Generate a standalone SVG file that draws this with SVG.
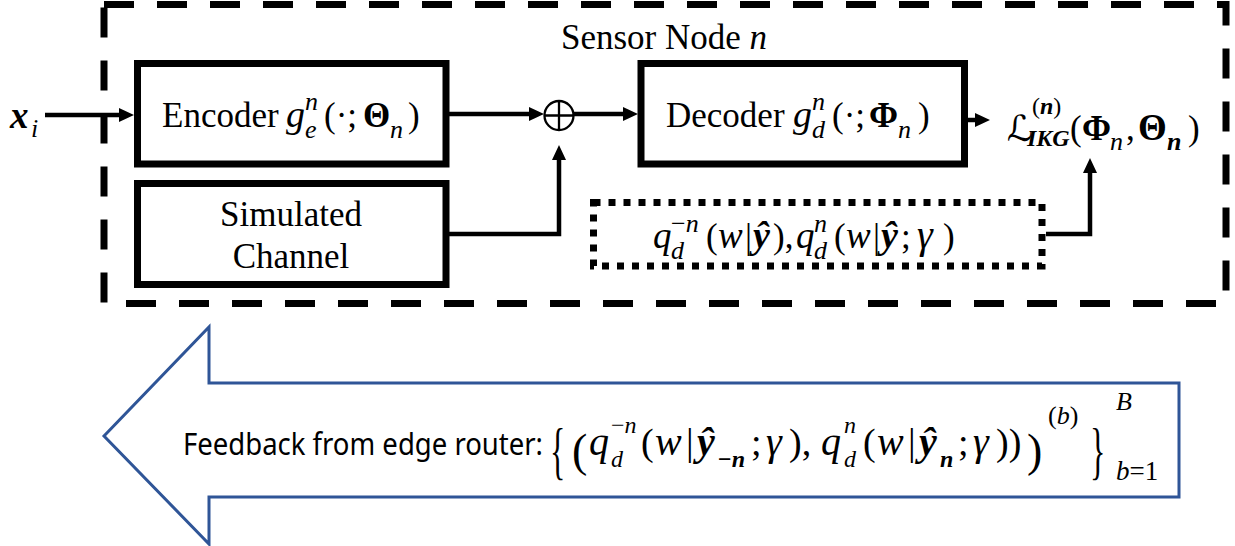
<svg xmlns="http://www.w3.org/2000/svg" width="1235" height="546" viewBox="0 0 1235 546">
<style>
.box{fill:none;stroke:#000;stroke-width:7}
.dash{fill:none;stroke:#000;stroke-width:7;stroke-dasharray:30 23}
.dot{fill:none;stroke:#000;stroke-width:7;stroke-dasharray:7 8}
.conn{fill:none;stroke:#000;stroke-width:4.5}
.big{fill:#fff;stroke:#2F5597;stroke-width:3}
.t{font-family:"Liberation Serif",serif;font-size:35px;fill:#000}
.s{font-size:26px}
.bs{font-size:24px}
.i{font-style:italic}
.b{font-weight:bold}
.m{font-family:"Liberation Serif",serif;font-size:38px;fill:#000}
.g{font-size:40px;font-style:italic}
.sans{font-family:"Noto Sans","Liberation Sans",sans-serif;font-size:31px;fill:#000}
</style>
<defs>
<marker id="ah" markerUnits="userSpaceOnUse" markerWidth="15" markerHeight="14" refX="0" refY="7" orient="auto">
<path d="M0,0 L15,7 L0,14 z" fill="#000"/>
</marker>
</defs>

<g id="sensor-node">
<path class="dash" d="M104,4.5 H1226 V303.5 H104 Z"/>
<text class="t" x="561" y="49">Sensor Node <tspan class="i">n</tspan></text>
</g>

<g id="input">
<text class="t"><tspan x="10" y="128" class="b i" style="font-size:37px">x</tspan><tspan x="31" y="137" class="s i">i</tspan></text>
</g>

<g id="encoder">
<rect class="box" x="137.5" y="63.5" width="308.5" height="100.5"/>
<text class="t"><tspan x="162" y="127">Encoder</tspan><tspan x="286" y="127" class="i" style="font-size:38px">g</tspan><tspan x="305" y="110" class="s i">n</tspan><tspan x="305" y="138" class="s i">e</tspan><tspan x="324" y="127">(·;</tspan><tspan x="363" y="127" class="b">Θ</tspan><tspan x="390" y="138" class="s i">n</tspan><tspan x="408" y="127">)</tspan></text>
</g>

<g id="channel">
<rect class="box" x="137.5" y="183.5" width="308.5" height="101"/>
<text class="t" text-anchor="middle"><tspan x="291" y="226">Simulated</tspan><tspan x="291" y="268">Channel</tspan></text>
</g>

<g id="adder">
<circle cx="559" cy="115.5" r="14.5" fill="#fff" stroke="#000" stroke-width="2.3"/>
<path d="M544.5,115.5 H573.5 M559,101 V130" stroke="#000" stroke-width="2.3"/>
</g>

<g id="decoder">
<rect class="box" x="641" y="63.5" width="323.5" height="100.5"/>
<text class="t"><tspan x="666" y="127">Decoder</tspan><tspan x="793" y="127" class="i" style="font-size:38px">g</tspan><tspan x="812" y="110" class="s i">n</tspan><tspan x="812" y="138" class="s i">d</tspan><tspan x="832" y="127">(·;</tspan><tspan x="869" y="127" class="b">Φ</tspan><tspan x="898" y="138" class="s i">n</tspan><tspan x="918" y="127">)</tspan></text>
</g>

<g id="loss">
<text class="t"><tspan x="1007" y="141" class="i" style="font-family:'DejaVu Serif','DejaVu Sans',serif;font-size:36px">ℒ</tspan><tspan x="1032" y="114" class="bs">(</tspan><tspan class="bs b i">n</tspan><tspan class="bs">)</tspan><tspan x="1027" y="146" class="bs b i">IKG</tspan><tspan x="1070" y="140">(</tspan><tspan x="1082" y="140" class="b">Φ</tspan><tspan x="1110" y="150" class="s i">n</tspan><tspan x="1126" y="140">,</tspan><tspan x="1138" y="140" class="b" style="font-size:37px">Θ</tspan><tspan x="1167" y="150" class="s b i">n</tspan><tspan x="1188" y="140">)</tspan></text>
</g>

<g id="prior">
<rect class="dot" x="593.5" y="202.5" width="448.5" height="63.5"/>
<text class="t"><tspan x="653" y="248" class="i" style="font-size:37px">q</tspan><tspan x="671" y="232" class="s">−</tspan><tspan class="s i">n</tspan><tspan x="671" y="259" class="s i">d</tspan><tspan x="706" y="248">(</tspan><tspan x="718" y="248" class="i" style="font-size:37px">w</tspan><tspan x="745" y="248">|</tspan><tspan x="753" y="248" class="b i" style="font-size:38px">ŷ</tspan><tspan x="773" y="248">),</tspan><tspan x="796" y="248" class="i" style="font-size:37px">q</tspan><tspan x="814" y="232" class="s i">n</tspan><tspan x="814" y="259" class="s i">d</tspan><tspan x="834" y="248">(</tspan><tspan x="846" y="248" class="i" style="font-size:37px">w</tspan><tspan x="873" y="248">|</tspan><tspan x="881" y="248" class="b i" style="font-size:38px">ŷ</tspan><tspan x="901" y="248">;</tspan><tspan x="917" y="248" class="i" style="font-size:40px">γ</tspan><tspan x="943" y="248">)</tspan></text>
</g>

<g id="feedback">
<path class="big" d="M104,436 L209,327 V383 H1179 V497 H209 V544 Z"/>
<text class="sans" x="183" y="455" textLength="360" lengthAdjust="spacingAndGlyphs">Feedback from edge router:</text>
<text class="m" transform="translate(550,472) scale(0.5,1)" style="font-size:64px">{</text>
<text class="m" x="572" y="466" style="font-size:46px">(</text>
<text class="m"><tspan x="589" y="455" class="g">q</tspan><tspan x="611" y="433" class="bs">−</tspan><tspan class="bs i">n</tspan><tspan x="611" y="467" class="bs i">d</tspan><tspan x="641" y="455">(</tspan><tspan x="655" y="455" class="g">w</tspan><tspan x="686" y="455">|</tspan><tspan x="697" y="455" class="g b">ŷ</tspan><tspan x="718" y="467" class="bs b">−</tspan><tspan class="bs b i">n</tspan><tspan x="751" y="455">;</tspan><tspan x="766" y="455" class="g">γ</tspan><tspan x="789" y="455">),</tspan><tspan x="821" y="455" class="g">q</tspan><tspan x="844" y="433" class="bs i">n</tspan><tspan x="844" y="467" class="bs i">d</tspan><tspan x="863" y="455">(</tspan><tspan x="877" y="455" class="g">w</tspan><tspan x="908" y="455">|</tspan><tspan x="919" y="455" class="g b">ŷ</tspan><tspan x="940" y="467" class="bs b i">n</tspan><tspan x="958" y="455">;</tspan><tspan x="973" y="455" class="g">γ</tspan><tspan x="996" y="455">))</tspan></text>
<text class="m" x="1027" y="466" style="font-size:46px">)</text>
<text class="m"><tspan x="1048" y="424" class="s">(</tspan><tspan class="s i">b</tspan><tspan class="s">)</tspan></text>
<text class="m" transform="translate(1090,472) scale(0.5,1)" style="font-size:64px">}</text>
<text class="m"><tspan x="1116" y="410" class="s i">B</tspan><tspan x="1116" y="480" style="font-size:27px"><tspan class="i">b</tspan>=1</tspan></text>
</g>

<g id="connectors">
<path class="conn" d="M45,115 H119" marker-end="url(#ah)"/>
<path class="conn" d="M449,114 H529" marker-end="url(#ah)"/>
<path class="conn" d="M574,114 H623" marker-end="url(#ah)"/>
<path class="conn" d="M449,234 H559 V160" marker-end="url(#ah)"/>
<path class="conn" d="M968,120 H975" marker-end="url(#ah)"/>
<path class="conn" d="M1046,234 H1090 V173" marker-end="url(#ah)"/>
</g>
</svg>
